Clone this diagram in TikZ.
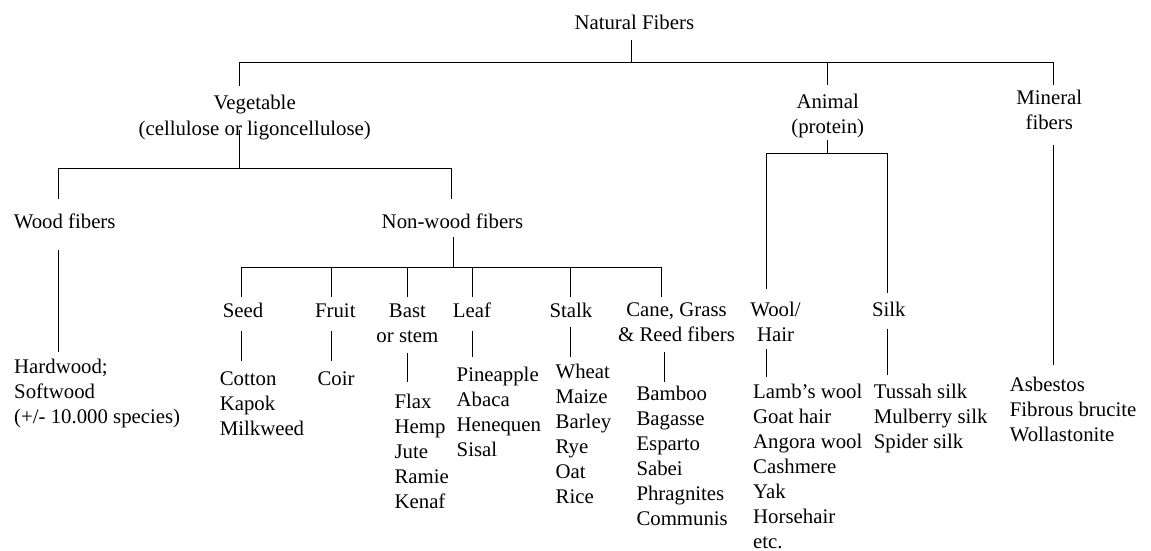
\documentclass[tikz,border=0pt]{standalone}
\usepackage{fontspec}
\setmainfont{Liberation Serif}
\newcommand{\Lcol}[1]{\begin{tabular}[t]{@{}l@{}}#1\end{tabular}}
\newcommand{\Ccol}[1]{\begin{tabular}[t]{@{}c@{}}#1\end{tabular}}
\begin{document}
\begin{tikzpicture}[x=1pt,y=-1pt,
  lbl/.style={inner sep=0pt, outer sep=0pt, font=\fontsize{20.8}{25}\selectfont},
  hd/.style={lbl, anchor=base},
  ls/.style={lbl, anchor=base west},
  ln/.style={line width=0.8pt}]
\useasboundingbox[fill=white] (0,0) rectangle (1151,551);

% ---------- headings ----------
\node[hd] (nat) at (634.3,29.5) {Natural Fibers};
\node[hd] (veg) at (254.7,110) {\Ccol{Vegetable\\(cellulose or ligoncellulose)}};
\node[hd] (ani) at (827.7,108.3) {\Ccol{Animal\\(protein)}};
\node[hd] (min) at (1049.3,104.5) {\Ccol{Mineral\\fibers}};
\node[ls] (wood) at (13.8,228) {Wood fibers};
\node[hd] (nonw) at (452.5,228) {Non-wood fibers};
\node[hd] (seed) at (243,317.3) {Seed};
\node[hd] (fruit) at (335.3,317.3) {Fruit};
\node[hd] (bast) at (407.4,317.3) {\Ccol{Bast\\or stem}};
\node[hd] (leaf) at (472,317.3) {Leaf};
\node[hd] (stalk) at (571,317.3) {Stalk};
\node[hd] (cane) at (676.5,316.3) {\Ccol{Cane, Grass\\\& Reed fibers}};
\node[hd] (wool) at (775.5,316) {\Ccol{Wool/\\Hair}};
\node[hd] (silk) at (888.8,316) {Silk};

% ---------- lists ----------
\node[ls] (woodl) at (14.2,373.3) {\Lcol{Hardwood;\\Softwood\\(+/- 10.000 species)}};
\node[ls] (seedl) at (219.8,385.5) {\Lcol{Cotton\\Kapok\\Milkweed}};
\node[ls] (fruitl) at (317.5,385.5) {Coir};
\node[ls] (bastl) at (394.6,408.3) {\Lcol{Flax\\Hemp\\Jute\\Ramie\\Kenaf}};
\node[ls] (leafl) at (456.7,381) {\Lcol{Pineapple\\Abaca\\Henequen\\Sisal}};
\node[ls] (stalkl) at (555.7,378.3) {\Lcol{Wheat\\Maize\\Barley\\Rye\\Oat\\Rice}};
\node[ls] (canel) at (636.5,400.3) {\Lcol{Bamboo\\Bagasse\\Esparto\\Sabei\\Phragnites\\Communis}};
\node[ls] (wooll) at (753.2,398.3) {\Lcol{Lamb’s wool\\Goat hair\\Angora wool\\Cashmere\\Yak\\Horsehair\\etc.}};
\node[ls] (silkl) at (873.8,398.3) {\Lcol{Tussah silk\\Mulberry silk\\Spider silk}};
\node[ls] (minl) at (1009.8,391.7) {\Lcol{Asbestos\\Fibrous brucite\\Wollastonite}};

% ---------- bracket coordinates ----------
\coordinate (natB) at (631.2,40);
\coordinate (natH) at (631.2,62.3);
\coordinate (vegT) at (239.4,86);
\coordinate (aniH) at (827.4,62.3);
\coordinate (aniT) at (827.4,85);
\coordinate (minT) at (1053.2,85);
\coordinate (vegB) at (239.4,130);
\coordinate (vegH) at (239.4,168.3);
\coordinate (woodT) at (58.3,198.5);
\coordinate (nonwT) at (451.3,198.5);
\coordinate (woodB) at (58.3,250.3);
\coordinate (woodE) at (58.3,351.7);
\coordinate (nonwB) at (453.3,237.3);
\coordinate (nonwH) at (453.3,267.3);
\coordinate (seedT) at (241.2,296.7);
\coordinate (fruitT) at (331.7,296.7);
\coordinate (bastT) at (407.3,296.7);
\coordinate (leafT) at (472,296.7);
\coordinate (stalkT) at (570.5,296.7);
\coordinate (caneT) at (661.5,296.7);
\coordinate (aniB) at (827.4,140);
\coordinate (aniH2) at (827.4,153.3);
\coordinate (woolT) at (766.8,289);
\coordinate (silkT) at (887.3,293.3);
\coordinate (minB) at (1053.2,145.3);
\coordinate (minE) at (1053.2,365);

% ---------- connectors ----------
\draw[ln] (natB) -- (natH);
\draw[ln] (vegT) |- (natH) -| (minT);
\draw[ln] (aniH) -- (aniT);
\draw[ln] (vegB) -- (vegH);
\draw[ln] (woodT) |- (vegH) -| (nonwT);
\draw[ln] (woodB) -- (woodE);
\draw[ln] (nonwB) -- (nonwH);
\draw[ln] (seedT) |- (nonwH) -| (caneT);
\foreach \c in {fruitT,bastT,leafT,stalkT} \draw[ln] (\c) -- (\c |- nonwH);
\draw[ln] (aniB) -- (aniH2);
\draw[ln] (woolT) |- (aniH2) -| (silkT);
\draw[ln] (minB) -- (minE);

% lower stems to lists
\draw[ln] (241.2,330.7) -- (241.2,360.7);
\draw[ln] (331.7,330.7) -- (331.7,360.7);
\draw[ln] (407.3,353.3) -- (407.3,381.7);
\draw[ln] (472,330.7) -- (472,357.3);
\draw[ln] (570.3,326.7) -- (570.3,356.7);
\draw[ln] (664.3,351.7) -- (664.3,381.7);
\draw[ln] (766.8,349.3) -- (766.8,376.7);
\draw[ln] (887.3,328.5) -- (887.3,375);
\end{tikzpicture}
\end{document}
